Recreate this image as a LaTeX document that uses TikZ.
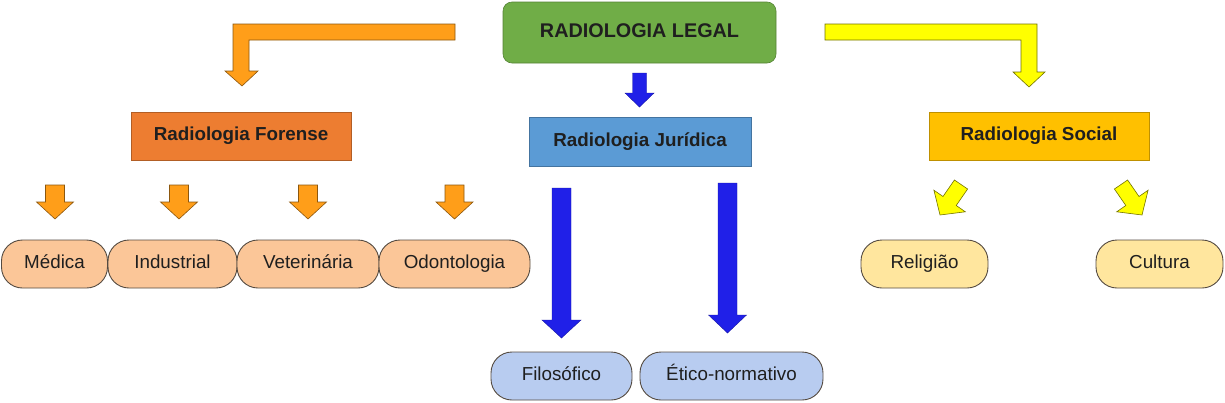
\documentclass[tikz,border=0pt]{standalone}
\usepackage{fontspec}
\setmainfont{Liberation Sans}
\definecolor{greenbox}{RGB}{112,173,71}
\definecolor{forense}{RGB}{237,125,49}
\definecolor{juridica}{RGB}{91,155,213}
\definecolor{social}{RGB}{255,192,0}
\definecolor{orarrow}{RGB}{255,158,25}
\definecolor{yelarrow}{RGB}{255,255,0}
\definecolor{bluearrow}{RGB}{32,32,232}
\definecolor{pillor}{RGB}{251,198,152}
\definecolor{pillbl}{RGB}{184,204,240}
\definecolor{pillye}{RGB}{255,230,158}
\definecolor{pillline}{RGB}{85,75,65}
\newcommand\dnarrow[7]{% style, cx, top, shaft half, head half, base y, tip y
  \filldraw[#1] ({#2-#4},#3) -- ({#2+#4},#3) -- ({#2+#4},#6) -- ({#2+#5},#6) -- (#2,#7) -- ({#2-#5},#6) -- ({#2-#4},#6) -- cycle;}
\begin{document}
\begin{tikzpicture}[x=1pt,y=-1pt,
  hbox/.style={draw=#1!75!black, fill=#1, line width=0.6pt, inner sep=0pt, outer sep=0pt,
    text height=13.5pt, text depth=4.3pt,
    font=\bfseries\fontsize{18.8}{20}\selectfont, text=black!88},
  pill/.style={draw=pillline, fill=#1, line width=0.9pt, rounded corners=21pt, inner sep=0pt, outer sep=0pt,
    text height=13.3pt, text depth=4.5pt,
    minimum height=48pt, font=\fontsize{18.8}{20}\selectfont, text=black!88},
  orstyle/.style={fill=orarrow, draw=orarrow!55!black, line width=0.6pt, line join=miter},
  yestyle/.style={fill=yelarrow, draw=yelarrow!45!black, line width=0.6pt, line join=miter},
  blstyle/.style={fill=bluearrow, draw=bluearrow!70!black, line width=0.4pt, line join=miter}
]
\useasboundingbox (0,0) rectangle (1225,402);

% main boxes
\node[hbox=greenbox, rounded corners=9pt, minimum width=273pt, minimum height=61pt,
  font=\bfseries\fontsize{19.8}{21}\selectfont] (legal) at (639.5,32.5) {RADIOLOGIA LEGAL};
\node[hbox=forense, minimum width=220pt, minimum height=48pt] (forense) at (241,136) {Radiologia Forense};
\node[hbox=juridica, minimum width=222pt, minimum height=49pt] (juridica) at (640,141.5) {Radiologia Jurídica};
\node[hbox=social, minimum width=220pt, minimum height=48pt] (social) at (1039,136) {Radiologia Social};

% pills
\node[pill=pillor, minimum width=106pt] (medica) at (54.5,264) {Médica};
\node[pill=pillor, minimum width=129pt] (industrial) at (172.5,264) {Industrial};
\node[pill=pillor, minimum width=142pt] (veterinaria) at (308,264) {Veterinária};
\node[pill=pillor, minimum width=151pt] (odonto) at (454.5,264) {Odontologia};
\node[pill=pillbl, minimum width=141pt] (filosofico) at (561.5,376) {Filosófico};
\node[pill=pillbl, minimum width=183pt] (etico) at (731.5,376) {Ético-normativo};
\node[pill=pillye, minimum width=127pt] (religiao) at (924.5,264) {Religião};
\node[pill=pillye, minimum width=127pt] (cultura) at (1159.5,264) {Cultura};

% L-shaped arrows from the main box
\filldraw[orstyle] (455,24) -- (233,24) -- (233,71) -- (225,71) -- (242,86) -- (258,71)
  -- (249,71) -- (249,40) -- (455,40) -- cycle;
\filldraw[yestyle] (825,24) -- (1037,24) -- (1037,72) -- (1045,72) -- (1029,87) -- (1013,72)
  -- (1021,72) -- (1021,40) -- (825,40) -- cycle;

% small blue arrow
\dnarrow{blstyle}{639.5}{73}{7}{14.5}{93}{107}

% orange down arrows
\dnarrow{orstyle}{55}{185}{9.5}{18.5}{202}{219}
\dnarrow{orstyle}{179}{185}{9.5}{18.5}{202}{219}
\dnarrow{orstyle}{308}{185}{9.5}{18.5}{202}{219}
\dnarrow{orstyle}{454.5}{185}{9.5}{18.5}{202}{219}

% big blue arrows
\dnarrow{blstyle}{561.5}{188}{9.5}{19.5}{320}{338}
\dnarrow{blstyle}{727.5}{183}{9.5}{19}{315}{333}

% yellow diagonal arrows
\filldraw[yestyle] (954.4,180) -- (967.6,189) -- (956.2,205.5) -- (965.3,211.8) -- (940,215)
  -- (933.9,190.2) -- (943,196.5) -- cycle;
\filldraw[yestyle] (1127.6,180) -- (1114.4,189) -- (1125.8,205.5) -- (1116.7,211.8) -- (1142,215)
  -- (1148.1,190.2) -- (1139,196.5) -- cycle;
\end{tikzpicture}
\end{document}
